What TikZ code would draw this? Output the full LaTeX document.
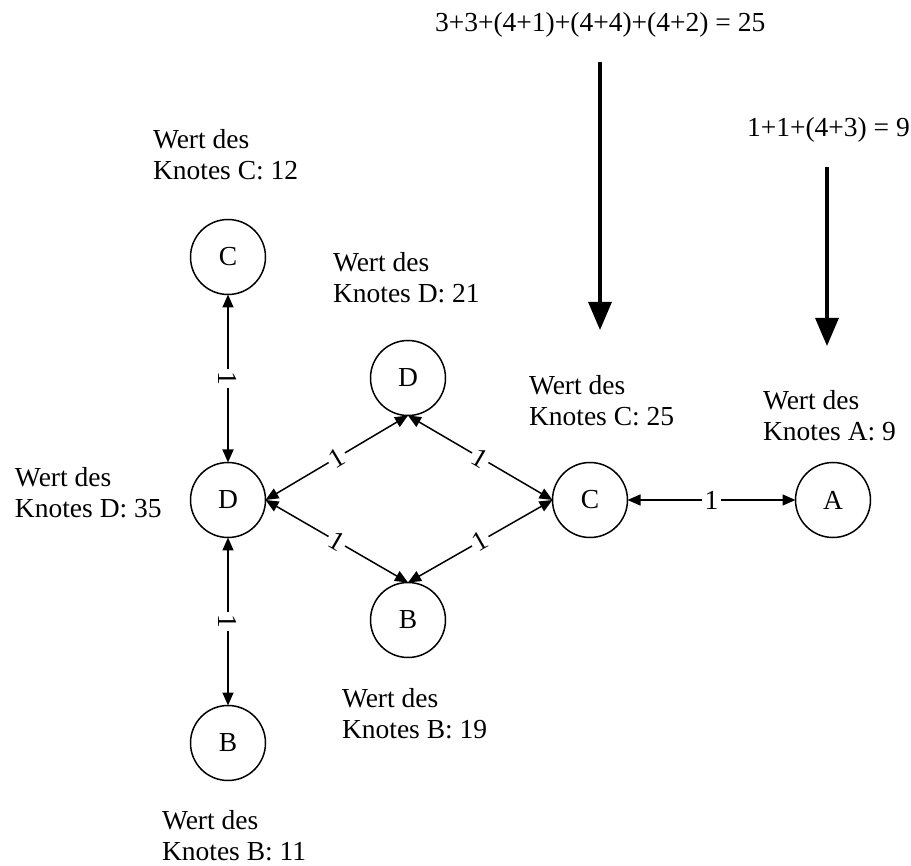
\documentclass[tikz,border=0pt]{standalone}
\usepackage{fontspec}
\setmainfont{Liberation Serif}
\usetikzlibrary{arrows.meta}
\begin{document}
\begin{tikzpicture}[x=1pt,y=-1pt,
  every node/.style={font=\fontsize{27.5}{31}\selectfont, inner sep=0pt, outer sep=0pt},
  vertex/.style={draw, circle, line width=1.5pt, minimum size=75pt},
  info/.style={anchor=base west, align=left},
  link/.style={line width=1.5pt, {Triangle[length=13pt,width=11pt]}-{Triangle[length=13pt,width=11pt]}},
  wlabel/.style={fill=white, inner sep=2.5pt},
  bigarrow/.style={line width=3.3pt, -{Triangle[length=28pt,width=23pt]}}]
\useasboundingbox (0,0) rectangle (911,866);
% vertices
\node[vertex] (c1) at (228,257) {C};
\node[vertex] (d1) at (228,500) {D};
\node[vertex] (b1) at (228,743) {B};
\node[vertex] (d2) at (408,378) {D};
\node[vertex] (b2) at (408,620) {B};
\node[vertex] (c2) at (590,500) {C};
\node[vertex] (a1) at (833,500) {A};
% connectors
\draw[link] (c1.south) -- node[wlabel, rotate=-90] {1} (d1.north);
\draw[link] (d1.south) -- node[wlabel, rotate=-90] {1} (b1.north);
\draw[link] (d1.east) -- node[wlabel, sloped] {1} (d2.south);
\draw[link] (d2.south) -- node[wlabel, sloped] {1} (c2.west);
\draw[link] (d1.east) -- node[wlabel, sloped] {1} (b2.north);
\draw[link] (b2.north) -- node[wlabel, sloped] {1} (c2.west);
\draw[link] (c2.east) -- node[wlabel] {1} (a1.west);
% value labels (base = last line)
\node[info] (lc1) at (153,180) {Wert des\\Knotes C: 12};
\node[info] (ld2) at (333,303) {Wert des\\Knotes D: 21};
\node[info] (ld1) at (15,518) {Wert des\\Knotes D: 35};
\node[info] (lb2) at (342,738) {Wert des\\Knotes B: 19};
\node[info] (lb1) at (162,860) {Wert des\\Knotes B: 11};
\node[info] (lc2) at (529,426) {Wert des\\Knotes C: 25};
\node[info] (la1) at (763,441) {Wert des\\Knotes A: 9};
% formulas and arrows
\node[anchor=base west] (f1) at (435,32) {3+3+(4+1)+(4+4)+(4+2) = 25};
\node[anchor=base west] (f2) at (747,137) {1+1+(4+3) = 9};
\coordinate (p1s) at (600,62);
\coordinate (p1e) at (600,330);
\coordinate (p2s) at (827,167);
\coordinate (p2e) at (827,346);
\draw[bigarrow] (p1s) -- (p1e);
\draw[bigarrow] (p2s) -- (p2e);
\end{tikzpicture}
\end{document}
